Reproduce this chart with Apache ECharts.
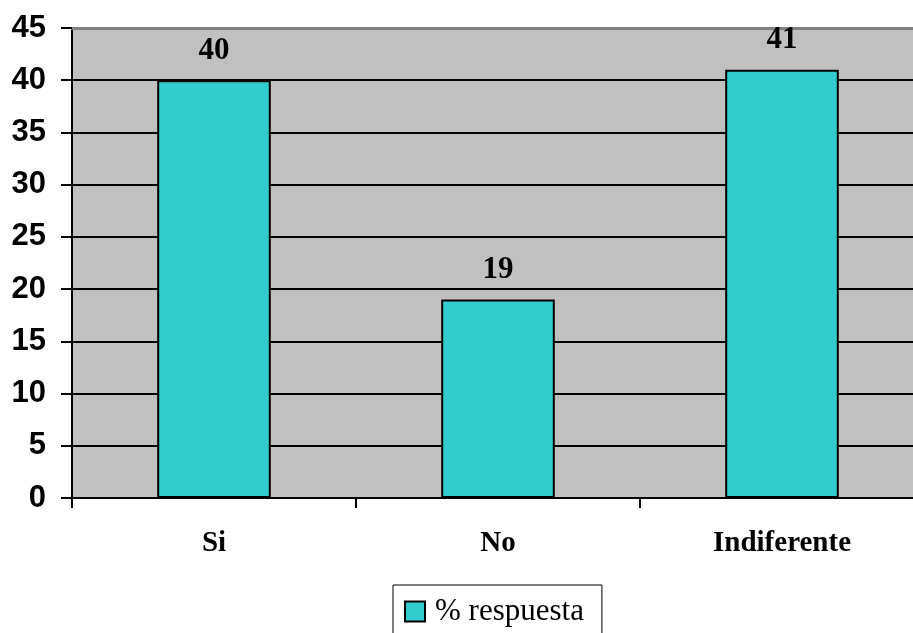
<!DOCTYPE html>
<html>
<head>
<meta charset="utf-8">
<script src="https://cdn.jsdelivr.net/npm/echarts@6/dist/echarts.min.js"></script>
<style>
  html, body { margin: 0; padding: 0; background: #fff; overflow: hidden; }
  #chart { width: 930px; height: 633px; }
</style>
</head>
<body>
<div id="chart"></div>
<script>
// Survey answers (% of responses)
const categories = ['Si', 'No', 'Indiferente'];
const seriesName = '% respuesta';
const values = [40, 19, 41];
const yTicks = { min: 0, max: 45, interval: 5 };

const chart = echarts.init(document.getElementById('chart'));

chart.setOption({
  animation: false,
  backgroundColor: '#ffffff',
  grid: {
    left: 72, top: 28, right: 6, bottom: 135,
    show: true, backgroundColor: '#c0c0c0', borderWidth: 0
  },
  legend: {
    data: [seriesName],
    left: 393, top: 585,
    borderColor: '#000', borderWidth: 1,
    padding: [11, 18, 12, 11],
    itemWidth: 20, itemHeight: 20, itemGap: 10,
    icon: 'rect',
    itemStyle: { borderColor: '#000', borderWidth: 2 },
    textStyle: { fontFamily: 'Liberation Serif', fontSize: 31, color: '#000', padding: [0, 0, 0, 5] }
  },
  xAxis: [{
    type: 'category',
    data: categories,
    axisLine: { lineStyle: { color: '#000', width: 2 } },
    axisTick: { show: true, length: 10, lineStyle: { color: '#000', width: 2 } },
    axisLabel: {
      margin: 31, color: '#000',
      fontFamily: 'Liberation Serif', fontWeight: 'bold', fontSize: 29
    }
  }, {
    // top edge of the plot frame
    type: 'category',
    position: 'top',
    data: categories,
    axisLine: { lineStyle: { color: '#808080', width: 3 } },
    axisTick: { show: false },
    axisLabel: { show: false }
  }],
  yAxis: {
    type: 'value',
    min: yTicks.min, max: yTicks.max, interval: yTicks.interval,
    axisLine: { show: true, lineStyle: { color: '#000', width: 2 } },
    axisTick: { show: true, length: 11, lineStyle: { color: '#000', width: 2 } },
    splitLine: { show: true, lineStyle: { color: '#000', width: 2 } },
    axisLabel: {
      margin: 26, color: '#000',
      fontFamily: 'Liberation Sans', fontWeight: 'bold', fontSize: 31
    }
  },
  series: [{
    name: seriesName,
    type: 'bar',
    data: values,
    barWidth: '40%',
    itemStyle: { color: '#33cccc', borderColor: '#000', borderWidth: 2 },
    label: {
      show: true, position: 'top', distance: 14,
      color: '#000', fontFamily: 'Liberation Serif', fontWeight: 'bold', fontSize: 31
    }
  }]
});
</script>
</body>
</html>
